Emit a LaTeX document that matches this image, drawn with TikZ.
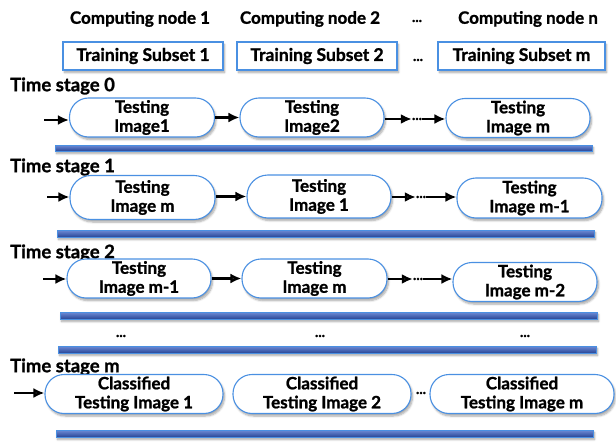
\documentclass[tikz,border=0pt]{standalone}
\usepackage{fontspec}
\setmainfont{Lato}[BoldFeatures={FakeBold=1.2}]
\usetikzlibrary{arrows.meta,shadows.blur}

\definecolor{edgeblue}{RGB}{74,144,226}
\definecolor{bartop}{RGB}{110,140,215}
\definecolor{barbot}{RGB}{40,70,150}

\begin{document}
\begin{tikzpicture}[x=1pt,y=-1pt,
  softshadow/.style={blur shadow={shadow xshift=1.5pt,shadow yshift=-2.5pt,
      shadow blur steps=6,shadow opacity=35}},
  pill/.style={draw=edgeblue,line width=1.1pt,fill=white,rounded corners=19pt,
      minimum height=39pt,inner sep=0pt,align=center,softshadow,
      font=\bfseries\fontsize{17}{19}\selectfont},
  subset/.style={draw=edgeblue,line width=1.1pt,fill=white,minimum height=28pt,
      inner sep=0pt,softshadow,font=\bfseries\fontsize{17.5}{18}\selectfont},
  header/.style={font=\bfseries\fontsize{17}{18}\selectfont,inner sep=0pt},
  stage/.style={font=\bfseries\fontsize{18.5}{18}\selectfont,inner sep=0pt,anchor=west},
  dots/.style={font=\bfseries\fontsize{14}{14}\selectfont,inner sep=0pt},
  flow/.style={line width=2.2pt,-{Latex[length=11pt,width=10pt]}},
  bar/.style={draw=edgeblue,line width=0.8pt,top color=bartop,bottom color=barbot,
      softshadow}
]
\useasboundingbox (0,0) rectangle (616,444);

% column headers
\node[header] (h1) at (140,19) {Computing node 1};
\node[header] (h2) at (310,19) {Computing node 2};
\node[dots]   (hd) at (417,21) {...};
\node[header] (hn) at (528,19) {Computing node n};

% training subsets
\node[subset,minimum width=160pt] (s1) at (143,56) {Training Subset 1};
\node[subset,minimum width=160pt] (s2) at (317,56) {Training Subset 2};
\node[dots] (sd) at (418,60) {...};
\node[subset,minimum width=167pt] (sm) at (521.5,56) {Training Subset m};

% time stage 0
\node[stage] (t0) at (10,86) {Time stage 0};
\node[pill,minimum width=145pt] (p01) at (142,117.5) {Testing\\Image1};
\node[pill,minimum width=144pt] (p02) at (312,117.5) {Testing\\Image2};
\node[pill,minimum width=144pt] (p03) at (518,118) {Testing\\Image m};
\coordinate (e0) at (44,120);
\node[dots] (d0) at (417,119) {...};
\draw[flow] (e0) -- (p01.west |- e0);
\draw[flow] (p01) -- (p02);
\draw[flow] (p02.east |- d0) -- (d0.west);
\draw[flow] (d0.east) -- (p03.west |- d0);
\path[bar] (55,145) rectangle (592,151);

% time stage 1
\node[stage] (t1) at (10,167) {Time stage 1};
\node[pill,minimum width=145pt,minimum height=44pt,rounded corners=21pt] (p11) at (142.5,197.5) {Testing\\Image m};
\node[pill,minimum width=144pt,minimum height=43pt,rounded corners=21pt] (p12) at (319,196.5) {Testing\\Image 1};
\node[pill,minimum width=145pt,minimum height=40pt] (p13) at (529.5,198) {Testing\\Image m-1};
\coordinate (e1) at (47,197);
\node[dots] (d1) at (421,197) {...};
\draw[flow] (e1) -- (p11.west |- e1);
\draw[flow] (p11.east |- p12) -- (p12);
\draw[flow] (p12.east |- d1) -- (d1.west);
\draw[flow] (d1.east) -- (p13.west |- d1);
\path[bar] (57,230) rectangle (594,237);

% time stage 2
\node[stage] (t2) at (10,253) {Time stage 2};
\node[pill,minimum width=144pt] (p21) at (139,278.5) {Testing\\Image m-1};
\node[pill,minimum width=145pt] (p22) at (314.5,278.5) {Testing\\Image m};
\node[pill,minimum width=144pt] (p23) at (525,282) {Testing\\Image m-2};
\coordinate (e2) at (43,279);
\node[dots] (d2) at (418,279) {...};
\draw[flow] (e2) -- (p21.west |- e2);
\draw[flow] (p21) -- (p22);
\draw[flow] (p22.east |- d2) -- (d2.west);
\draw[flow] (d2.east) -- (p23.west |- d2);
\path[bar] (60,312) rectangle (597,319);

% intermediate stages
\node[dots] (m1) at (121,336) {...};
\node[dots] (m2) at (320,336) {...};
\node[dots] (m3) at (525,336) {...};
\path[bar] (58,346) rectangle (596,353);

% time stage m
\node[stage] (tm) at (10,367) {Time stage m};
\node[pill,minimum width=178pt] (pm1) at (134,394) {Classified\\Testing Image 1};
\node[pill,minimum width=178pt] (pm2) at (322,394) {Classified\\Testing Image 2};
\node[pill,minimum width=184pt] (pm3) at (522,394) {Classified\\Testing Image m};
\node[dots] (dm) at (421,393) {...};
\coordinate (em) at (14,393);
\draw[flow] (em) -- (pm1.west |- em);
\path[bar] (56,430) rectangle (593,437);
\end{tikzpicture}
\end{document}
